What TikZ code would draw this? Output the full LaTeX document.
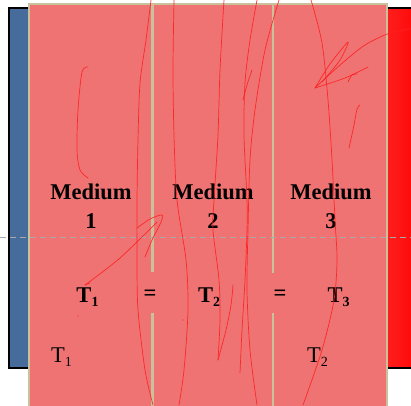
\documentclass[tikz,border=0pt]{standalone}
\usepackage{fontspec}
\setmainfont{Liberation Serif}
\definecolor{pinkfill}{HTML}{EF7373}
\definecolor{tanline}{HTML}{C9C19C}
\definecolor{bluefill}{HTML}{466C9B}
\definecolor{scrib}{HTML}{FF2020}
\definecolor{dashgray}{HTML}{A9A9A9}
\definecolor{redlight}{HTML}{FF2424}
\definecolor{redfull}{HTML}{FF0000}
\newcommand{\lowidx}[1]{\raisebox{-4pt}{\fontsize{14}{14}\selectfont #1}}
\begin{document}
\begin{tikzpicture}[x=1pt,y=-1pt,
  lab/.style={font=\fontsize{22.5}{27}\selectfont\bfseries, inner sep=0pt, anchor=base, text=black},
  tlab/.style={font=\fontsize{22.5}{27}\selectfont, inner sep=0pt, anchor=base, text=black},
  scribble/.style={draw=scrib, line width=0.7pt, opacity=0.9, line cap=round, line join=round},
  divider/.style={draw=tanline, line width=2.5pt}]
\useasboundingbox (0,0) rectangle (411,405);
\begin{scope}
\clip (0,0) rectangle (411,405);
% outer box: cold and hot sides
\fill[bluefill] (9,8) rectangle (40,368);
\shade[left color=redlight, right color=redfull] (380,8) rectangle (425,368);
\draw[line width=2.5pt] (9,8) rectangle (430,368);
% media
\fill[pinkfill] (29,4) rectangle (387,415);
\draw[tanline, line width=2.5pt] (29,4) rectangle (387,415);
\draw[divider] (152.5,4) -- (152.5,272);
\draw[divider] (152.5,313) -- (152.5,410);
\draw[divider] (273,4) -- (273,273);
\draw[divider] (273,313) -- (273,410);
% dashed centre line
\draw[dashgray, line width=1pt, dash pattern=on 6pt off 4pt] (0,237.5) -- (411,237.5);
% texts
\node[lab] (m1a) at (91,199) {Medium};
\node[lab] (m1b) at (91,228) {1};
\node[lab] (m2a) at (213,199) {Medium};
\node[lab] (m2b) at (213,228) {2};
\node[lab] (m3a) at (331,199) {Medium};
\node[lab] (m3b) at (331,228) {3};
\node[lab] (t1) at (87.5,302) {T\lowidx{1}};
\node[lab] (eq1) at (150,300) {=};
\node[lab] (t2) at (209,302) {T\lowidx{2}};
\node[lab] (eq2) at (280,300) {=};
\node[lab] (t3) at (338.5,302) {T\lowidx{3}};
\node[tlab] (tc) at (61.5,362) {T\lowidx{1}};
\node[tlab] (th) at (317.5,362) {T\lowidx{2}};
% freehand strokes
\draw[scribble] plot[smooth] coordinates {(88,67) (82,72) (78,110) (77,150) (80,170) (88,178)};
\draw[scribble] plot[smooth] coordinates {(151,0) (146,40) (140,83) (138,140) (137,200) (137,260) (138,310) (145,370) (153,405)};
\draw[scribble] plot[smooth] coordinates {(174,0) (173,70) (174,135) (177,200) (186,260) (188,310) (184,370) (179,405)};
\draw[scribble] plot[smooth] coordinates {(224,0) (220,70) (218,135) (214,200) (213,230) (219,280) (220,320) (218,360)};
\draw[scribble] plot[smooth] coordinates {(218,360) (226,330) (231,305) (233,285)};
\draw[scribble] plot[smooth] coordinates {(257,0) (250,40) (245,83) (244,135) (247,200) (247,230) (245,280) (242,330) (240,373)};
\draw[scribble] plot[smooth] coordinates {(279,0) (265,50) (255,110) (250,160) (248,230) (247,290) (250,350) (257,405)};
\draw[scribble] plot[smooth] coordinates {(252,70) (247,85) (243,100)};
\draw[scribble] plot[smooth] coordinates {(311,0) (322,43) (328,100) (332,160) (335,220) (337,260) (334,300) (322,350) (303,405)};
\draw[scribble] plot[smooth] coordinates {(411,29) (390,33) (365,45) (340,65) (315,88)};
\draw[scribble] plot[smooth] coordinates {(315,88) (330,64) (348,42) (340,60) (322,82)};
\draw[scribble] plot[smooth] coordinates {(315,88) (345,78) (368,67)};
\draw[scribble] plot[smooth] coordinates {(348,82) (352,75) (357,74)};
\draw[scribble] plot[smooth] coordinates {(360,105) (357,109) (354,125) (349,148)};
\draw[scribble] plot[smooth] coordinates {(85,285) (120,258) (157,222)};
\draw[scribble] plot[smooth] coordinates {(137,228) (150,219) (162,215) (161,222) (152,240) (145,257)};
\draw[scribble] (85,285) -- (90,283);
\fill[scrib] (78,316) circle (0.7pt);
\fill[scrib] (183,320) circle (0.7pt);
\end{scope}
\end{tikzpicture}
\end{document}
